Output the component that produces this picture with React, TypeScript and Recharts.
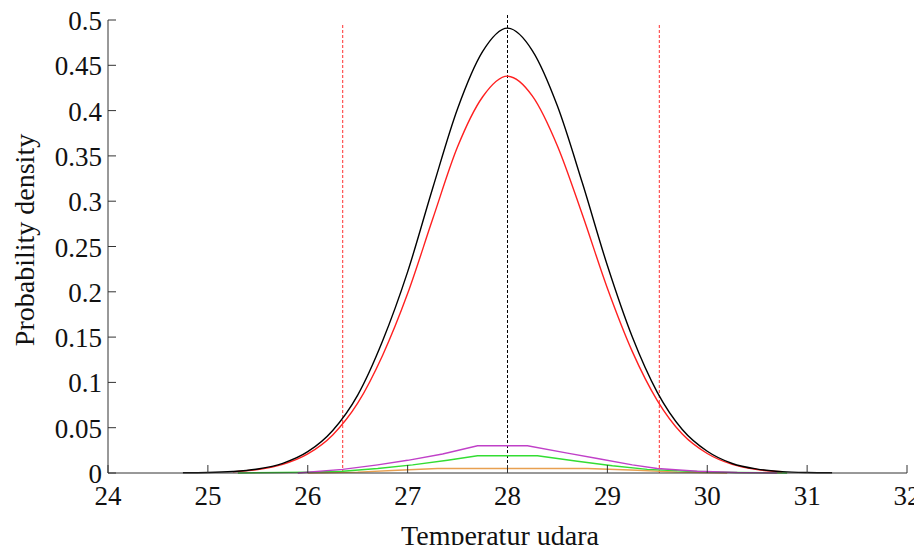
import { Line, LineChart, ReferenceLine, XAxis, YAxis, Label } from 'recharts'

// mixture density estimates
const gridX = [
  24.75, 25, 25.25, 25.5, 25.75, 26, 26.25, 26.5, 26.75, 27, 27.25, 27.5, 27.75, 28,
  28.25, 28.5, 28.75, 29, 29.25, 29.5, 29.75, 30, 30.25, 30.5, 30.75, 31, 31.25,
]
const totalY = [
  0.0002, 0.0005, 0.0016, 0.0044, 0.0107, 0.0235, 0.047, 0.086, 0.146, 0.222, 0.314, 0.402, 0.465, 0.491,
  0.466, 0.405, 0.32, 0.229, 0.15, 0.089, 0.048, 0.024, 0.0105, 0.0043, 0.0015, 0.0005, 0.0002,
]
const redX = [
  25.25, 25.5, 25.75, 26, 26.25, 26.5, 26.75, 27, 27.25, 27.5, 27.75, 28, 28.25, 28.5,
  28.75, 29, 29.25, 29.5, 29.75, 30, 30.25, 30.5, 30.75,
]
const redY = [
  0.0012, 0.0038, 0.0095, 0.021, 0.042, 0.077, 0.13, 0.198, 0.28, 0.36, 0.415, 0.438, 0.416, 0.361,
  0.285, 0.204, 0.134, 0.08, 0.043, 0.0215, 0.0095, 0.0038, 0.0013,
]
const magentaX = [25.9, 26.35, 26.7, 27, 27.35, 27.7, 28.2, 28.6, 28.9, 29.25, 29.5, 29.9, 30.3, 30.7]
const magentaY = [0, 0.004, 0.009, 0.014, 0.021, 0.03, 0.03, 0.022, 0.016, 0.009, 0.005, 0.002, 0.0005, 0]
const greenX = [25.3, 26, 26.35, 26.7, 27.05, 27.4, 27.7, 28.3, 28.7, 29.05, 29.4, 29.8, 30.3, 30.8]
const greenY = [0, 0.001, 0.002, 0.005, 0.009, 0.014, 0.019, 0.019, 0.013, 0.008, 0.004, 0.002, 0.0005, 0]
const orangeX = [26, 26.5, 26.9, 27.3, 28.8, 29.3, 29.7, 30.2]
const orangeY = [0, 0.001, 0.003, 0.005, 0.005, 0.003, 0.001, 0]

const xTicks = [24, 25, 26, 27, 28, 29, 30, 31, 32]
const yTicks = [0, 0.05, 0.1, 0.15, 0.2, 0.25, 0.3, 0.35, 0.4, 0.45, 0.5]
const boundLeft = 26.35
const boundRight = 29.52
const meanX = 28

const W = 914
const H = 545
const PLOT_LEFT = 100
const PLOT_BOTTOM = 465
const FONT = '"Liberation Serif", "Times New Roman", serif'
const AXIS = '#333'

const pts = (xs: number[], ys: number[]) => xs.map((x, i) => ({ x, y: ys[i] }))

function YTick({ y, payload }: any) {
  return (
    <g>
      <line x1={PLOT_LEFT} x2={PLOT_LEFT + 8} y1={y} y2={y} stroke={AXIS} />
      <text x={PLOT_LEFT - 6} y={y + 1} textAnchor="end" dominantBaseline="central" fontFamily={FONT} fontSize={27} fill="#111">
        {payload.value}
      </text>
    </g>
  )
}

function XTick({ x, payload }: any) {
  return (
    <g>
      <line x1={x} x2={x} y1={PLOT_BOTTOM} y2={PLOT_BOTTOM - 8} stroke={AXIS} />
      <text x={x} y={PLOT_BOTTOM + 32} textAnchor="middle" fontFamily={FONT} fontSize={27} fill="#111">
        {payload.value}
      </text>
    </g>
  )
}

export default function App() {
  const series = [
    { key: 'orange', data: pts(orangeX, orangeY), color: '#e8a050', curve: 'linear' },
    { key: 'green', data: pts(greenX, greenY), color: '#33dd33', curve: 'linear' },
    { key: 'magenta', data: pts(magentaX, magentaY), color: '#c040c8', curve: 'linear' },
    { key: 'red', data: pts(redX, redY), color: '#ff2020', curve: 'monotone' },
    { key: 'total', data: pts(gridX, totalY), color: '#000000', curve: 'monotone' },
  ]

  return (
    <div style={{ width: 906, height: 537 }}>
      <LineChart width={W} height={H} margin={{ top: 12, right: W - 899, bottom: 0, left: 0 }}>
        <XAxis
          type="number"
          dataKey="x"
          domain={[24, 32]}
          ticks={xTicks}
          height={H - PLOT_BOTTOM}
          stroke={AXIS}
          tickLine={false}
          tick={<XTick />}
          allowDuplicatedCategory={false}
        >
          <Label
            content={() => (
              <text x={492} y={537} textAnchor="middle" fontFamily={FONT} fontSize={28} fill="#111">
                Temperatur udara
              </text>
            )}
          />
        </XAxis>
        <YAxis
          type="number"
          domain={[0, 0.5]}
          ticks={yTicks}
          width={PLOT_LEFT}
          stroke={AXIS}
          tickLine={false}
          tick={<YTick />}
        >
          <Label
            content={() => (
              <text
                x={16}
                y={232}
                textAnchor="middle"
                dominantBaseline="central"
                transform="rotate(-90 16 232)"
                fontFamily={FONT}
                fontSize={28}
                fill="#111"
              >
                Probability density
              </text>
            )}
          />
        </YAxis>
        <ReferenceLine
          segment={[{ x: boundLeft, y: 0 }, { x: boundLeft, y: 0.495 }]}
          stroke="#ff3030"
          strokeDasharray="3 2"
          ifOverflow="visible"
        />
        <ReferenceLine
          segment={[{ x: boundRight, y: 0 }, { x: boundRight, y: 0.495 }]}
          stroke="#ff3030"
          strokeDasharray="3 2"
          ifOverflow="visible"
        />
        <ReferenceLine
          segment={[{ x: meanX, y: 0 }, { x: meanX, y: 0.506 }]}
          stroke="#000"
          strokeDasharray="3 2"
          ifOverflow="visible"
        />
        {series.map((s) => (
          <Line
            key={s.key}
            data={s.data}
            dataKey="y"
            type={s.curve as any}
            stroke={s.color}
            strokeWidth={1.4}
            dot={false}
            activeDot={false}
            isAnimationActive={false}
          />
        ))}
      </LineChart>
    </div>
  )
}
